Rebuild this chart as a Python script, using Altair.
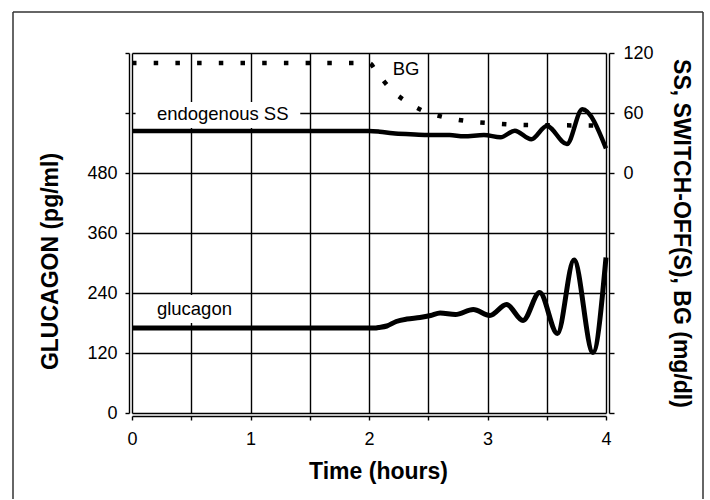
import altair as alt
import pandas as pd

# ---------------- data ----------------
# Glucagon, left axis (pg/ml)
gluc_t = [0, 0.5, 1.0, 1.5, 2.0, 2.05, 2.08, 2.15, 2.23, 2.32, 2.43, 2.52, 2.60,
          2.73, 2.88, 3.02, 3.16, 3.30, 3.44, 3.59, 3.73, 3.89, 4.00]
gluc_v = [170, 170, 170, 170, 170, 170, 171, 174, 183, 188, 191, 195, 200,
          197, 207, 195, 217, 185, 241, 159, 306, 121, 311]

# Endogenous SS, right axis
ss_t = [0, 1.0, 2.0, 2.09, 2.20, 2.35, 2.49, 2.68, 2.80, 2.97, 3.11, 3.23,
        3.37, 3.50, 3.67, 3.80, 4.00]
ss_v = [42, 42, 42, 41.3, 39.7, 38.7, 38, 38, 36.7, 38, 35.7, 42.3,
        33.7, 47, 29, 63.7, 24.7]

# Blood glucose, right axis (mg/dl)
bg_t = [0, 1.0, 2.0, 2.07, 2.19, 2.32, 2.44, 2.63, 2.82, 3.07, 3.30, 4.00]
bg_v = [110, 110, 110, 100, 83, 71, 63, 56, 52, 49.5, 48, 47.5]

# Axis ticks
x_ticks = [0, 0.5, 1, 1.5, 2, 2.5, 3, 3.5, 4]
left_ticks = [0, 120, 240, 360, 480, 600, 720]
right_ticks = [-240, -180, -120, -60, 0, 60, 120]

# Series labels (left-axis units)
label_text = ["endogenous SS", "glucagon", "BG"]
label_t = [0.21, 0.21, 2.20]
label_v = [587, 196, 676]

# White boxes behind the labels
box_t = [0.03, 0.11, 2.16]
box_t2 = [1.42, 0.91, 2.46]
box_v = [570, 180, 666]
box_v2 = [622, 236, 706]

FONT = "Liberation Sans"

gluc_df = pd.DataFrame({"t": gluc_t, "v": gluc_v})
ss_df = pd.DataFrame({"t": ss_t, "v": ss_v})
bg_df = pd.DataFrame({"t": bg_t, "v": bg_v})
lab_df = pd.DataFrame({"t": label_t, "v": label_v, "label": label_text})
box_df = pd.DataFrame({"t": box_t, "t2": box_t2, "v": box_v, "v2": box_v2})
one = pd.DataFrame({"a": [0]})

x_axis = alt.Axis(values=x_ticks,
                  labelExpr="datum.value % 1 === 0 ? format(datum.value, 'd') : ''",
                  grid=True, offset=3, tickSize=4, labelPadding=10,
                  labelFlush=False, labelFontSize=18,
                  titleFontSize=23, titleFontWeight="bold",
                  titleX=246, titleY=44)
X = alt.X("t:Q", scale=alt.Scale(domain=[0, 4], nice=False), axis=x_axis,
          title="Time (hours)")

left_axis = alt.Axis(values=left_ticks,
                     labelExpr="datum.value <= 480 ? format(datum.value, 'd') : ''",
                     grid=True, offset=3, tickSize=4, labelPadding=8,
                     labelFlush=False, labelFontSize=18,
                     titleFontSize=23, titleFontWeight="bold",
                     titleX=-67, titleY=208)
YL = alt.Y("v:Q", scale=alt.Scale(domain=[0, 720], nice=False), axis=left_axis,
           title="GLUCAGON (pg/ml)")

right_axis = alt.Axis(values=right_ticks, orient="right",
                      labelExpr="datum.value >= 0 ? format(datum.value, 'd') : ''",
                      grid=False, offset=3, tickSize=5, labelPadding=9,
                      labelFlush=False, labelFontSize=18,
                      titleFontSize=23, titleFontWeight="bold",
                      titleX=59)
YR = alt.Y("v:Q", scale=alt.Scale(domain=[-240, 120], nice=False), axis=right_axis,
           title="SS, SWITCH-OFF(S), BG (mg/dl)")

boxes = alt.Chart(box_df).mark_rect(color="white").encode(
    x=X, x2="t2:Q", y=YL, y2="v2:Q")

gluc_line = alt.Chart(gluc_df).mark_line(
    color="black", strokeWidth=5, interpolate="monotone").encode(x=X, y=YL)

labels = alt.Chart(lab_df).mark_text(
    align="left", baseline="alphabetic", fontSize=18.5, font=FONT, color="black"
).encode(x=X, y=YL, text="label:N")

frame_style = dict(color="#333333", strokeWidth=1.5)
frame_l = alt.Chart(one).mark_rule(**frame_style).encode(
    x=alt.value(-119), y=alt.value(-41), y2=alt.value(446))
frame_t = alt.Chart(one).mark_rule(**frame_style).encode(
    x=alt.value(-119), x2=alt.value(571), y=alt.value(-41))
frame_r = alt.Chart(one).mark_rule(**frame_style).encode(
    x=alt.value(571), y=alt.value(-41), y2=alt.value(446))

left = alt.layer(boxes, gluc_line, labels, frame_l, frame_t, frame_r)

ss_line = alt.Chart(ss_df).mark_line(
    color="black", strokeWidth=4.5, interpolate="monotone").encode(x=X, y=YR)
bg_line = alt.Chart(bg_df).mark_line(
    color="black", strokeWidth=4.5, strokeDash=[4.5, 17.2], strokeCap="butt",
    interpolate="monotone").encode(x=X, y=YR)

right = alt.layer(ss_line, bg_line)

chart = alt.layer(left, right).resolve_scale(y="independent").properties(
    width=474, height=360,
    padding={"left": 12, "top": 11, "right": 0, "bottom": 0},
    background="white",
).configure(font=FONT).configure_view(strokeWidth=0).configure_axis(
    gridColor="black", gridWidth=1.4, gridOpacity=1,
    domainColor="black", domainWidth=1.4,
    tickColor="black", tickWidth=1.4,
    labelColor="black", titleColor="black",
    labelFont=FONT, titleFont=FONT,
)

chart.save("out.html", embed_options={"renderer": "svg", "actions": False})
